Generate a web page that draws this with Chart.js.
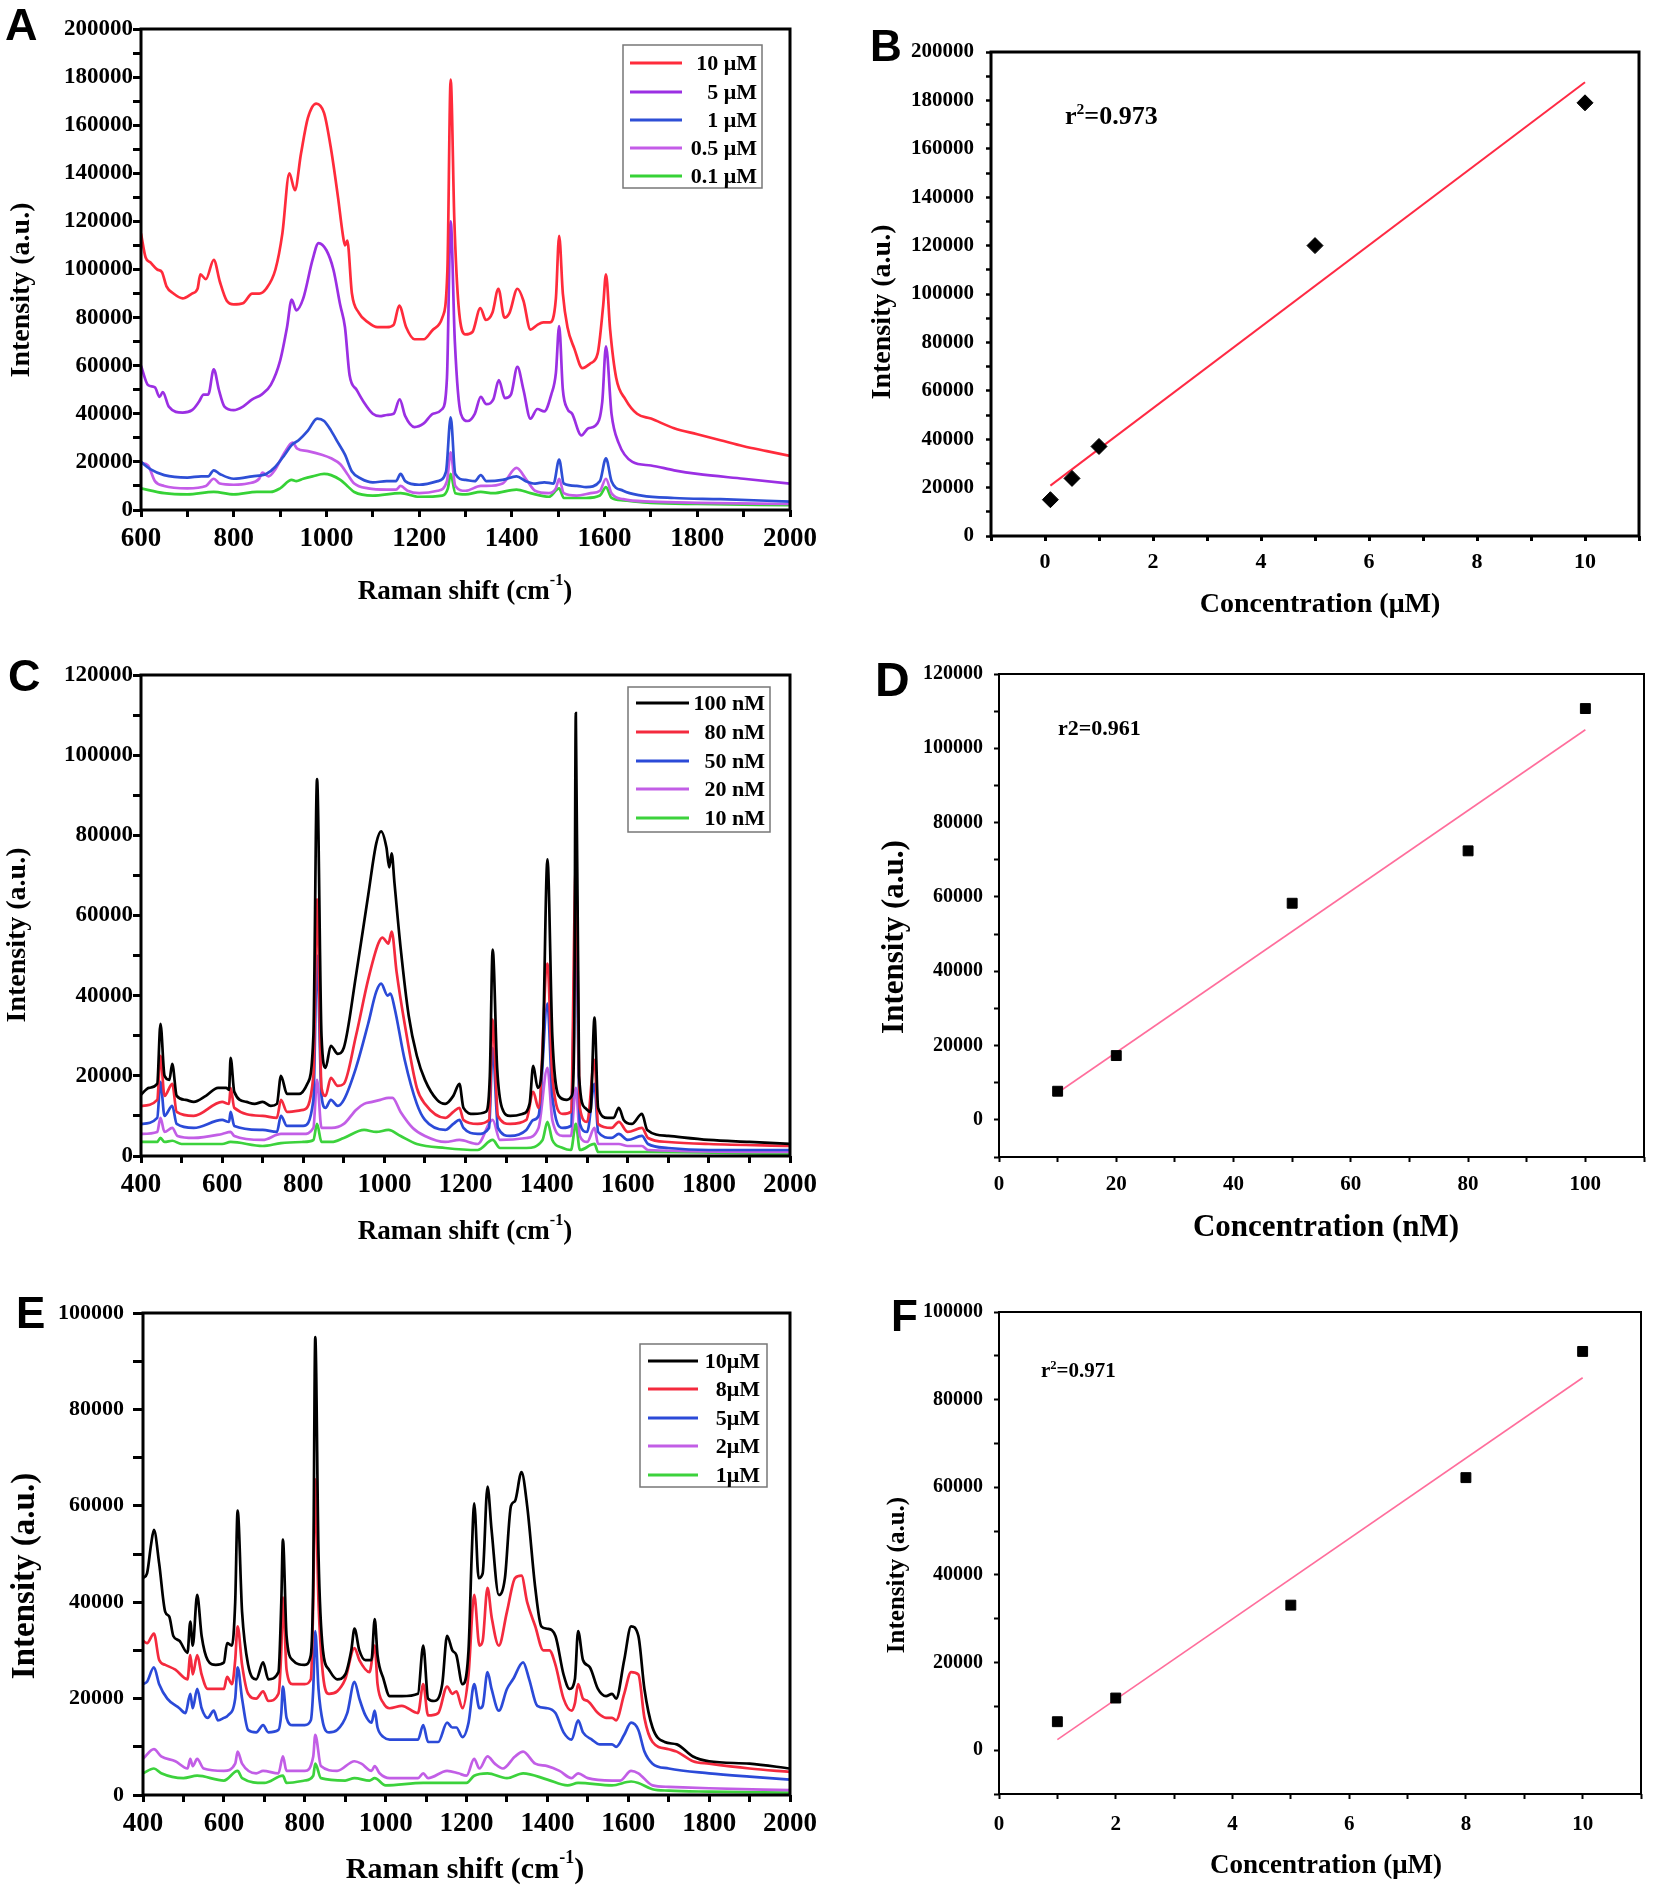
<!DOCTYPE html>
<html>
<head>
<meta charset="utf-8">
<script src="https://cdn.jsdelivr.net/npm/chart.js@4.4.1/dist/chart.umd.min.js"></script>
<style>
  body { margin: 0; background: #fff; width: 1654px; height: 1892px; position: relative; overflow: hidden; }
  canvas { position: absolute; }
</style>
</head>
<body>
<script>
const serif = '"Liberation Serif", "Times New Roman", serif';
const sans = '"Liberation Sans", Arial, sans-serif';

// ---- Panel A: Raman spectra, [shift, intensity]
const a10uM = [[600,115000],[610,105000],[620,103000],[635,100000],[645,99000],[655,93000],[670,90000],[690,88000],[710,90000],[722,92000],[728,98000],[740,96000],[757,104000],[770,95000],[785,87000],[800,85500],[820,86000],[840,90000],[855,90000],[870,92000],[890,100000],[905,115000],[920,140000],[932,133000],[945,148000],[960,163000],[978,169000],[995,165000],[1010,150000],[1025,130000],[1035,115000],[1040,110000],[1045,112000],[1055,90000],[1070,82000],[1090,78000],[1110,76000],[1130,76000],[1145,77000],[1157,85000],[1172,76000],[1190,71000],[1210,71000],[1230,75000],[1250,80000],[1261,100000],[1268,179000],[1276,120000],[1285,85000],[1300,73000],[1315,74000],[1332,84000],[1344,79000],[1358,82000],[1371,92000],[1384,80000],[1395,82000],[1412,92000],[1425,87000],[1440,75000],[1455,77000],[1468,78000],[1482,78000],[1495,88000],[1502,114000],[1510,90000],[1520,76000],[1535,67000],[1552,59000],[1570,61000],[1585,65000],[1597,85000],[1603,98000],[1612,75000],[1625,55000],[1645,46000],[1670,40000],[1700,38000],[1750,34000],[1800,31500],[1850,29000],[1900,26500],[1950,24500],[2000,22500]];
const a5uM = [[600,60000],[615,52000],[630,51000],[640,47000],[647,49000],[660,43000],[690,40500],[710,41500],[725,45000],[735,48000],[745,48000],[757,58500],[768,50000],[780,43000],[800,41500],[820,43000],[840,46000],[860,48000],[880,52000],[900,62000],[915,76000],[925,87500],[935,83000],[950,88000],[970,104000],[983,111000],[1000,108000],[1015,100000],[1030,85000],[1040,76000],[1050,56000],[1065,50000],[1080,45000],[1100,40000],[1115,39000],[1130,39500],[1145,40000],[1158,46000],[1170,39000],[1190,34500],[1210,36000],[1230,40000],[1250,42000],[1260,55000],[1268,120000],[1277,70000],[1290,40000],[1305,37000],[1320,40000],[1333,47000],[1345,44000],[1360,46000],[1372,54000],[1385,46500],[1398,48000],[1412,59500],[1425,50000],[1440,38000],[1455,42000],[1470,41000],[1485,48000],[1495,57000],[1502,76500],[1510,50000],[1520,42000],[1530,40000],[1550,31000],[1565,34000],[1580,35000],[1595,45000],[1603,68000],[1615,40000],[1630,28000],[1660,20000],[1700,18500],[1750,16500],[1800,15000],[1900,13000],[2000,11000]];
const a1uM = [[600,20000],[620,17000],[650,14500],[700,13500],[730,14000],[745,14000],[757,16500],[770,15000],[800,13000],[840,14000],[870,15000],[890,18000],[910,23000],[925,27000],[940,29000],[960,33000],[980,38000],[995,37000],[1010,33000],[1025,28000],[1040,23000],[1055,16000],[1075,13000],[1100,11500],[1130,12000],[1150,12000],[1160,15000],[1170,12000],[1200,10500],[1240,12000],[1258,16000],[1268,38500],[1278,15000],[1300,12500],[1320,12000],[1333,14500],[1345,12000],[1380,12500],[1410,14000],[1430,12000],[1450,11000],[1470,11500],[1490,11000],[1502,21000],[1512,11000],[1540,10000],[1560,9500],[1590,12000],[1603,21500],[1615,12000],[1640,8000],[1680,6000],[1750,5000],[1850,4500],[2000,3500]];
const a05uM = [[600,19500],[615,18500],[630,12000],[650,10000],[700,9000],[740,10000],[757,13000],[770,11000],[800,10500],[830,11000],[855,13000],[862,15500],[875,14000],[890,17000],[910,24000],[927,28000],[937,25500],[960,24500],[990,23000],[1010,21500],[1030,19000],[1045,15000],[1060,11000],[1090,9000],[1130,8500],[1150,8500],[1160,10000],[1175,8000],[1200,7000],[1240,8000],[1260,12000],[1268,24000],[1278,10000],[1300,8000],[1333,10000],[1345,10000],[1380,11000],[1410,17500],[1430,13000],[1450,8000],[1480,7000],[1495,9000],[1502,13000],[1512,7000],[1540,6000],[1570,7000],[1590,8000],[1603,13000],[1615,7000],[1640,4500],[1700,3500],[1800,3000],[2000,2500]];
const a01uM = [[600,9000],[650,7000],[700,6500],[757,7500],[800,6500],[850,7500],[880,7500],[900,9000],[925,12500],[935,12000],[950,13000],[970,14000],[995,15000],[1010,14500],[1030,12500],[1045,10000],[1060,7500],[1100,6000],[1160,7000],[1200,5500],[1250,6000],[1262,9000],[1268,15000],[1278,7000],[1300,6500],[1333,7500],[1360,7000],[1410,8500],[1440,7000],[1480,5500],[1502,9000],[1512,5000],[1560,5000],[1590,6000],[1603,9500],[1615,5000],[1640,4000],[1700,3000],[1800,2500],[2000,2000]];

// ---- Panel B: calibration (uM)
const bConc = [0.1, 0.5, 1, 5, 10];
const bInt = [15000, 23800, 37000, 120000, 179000];
const bFitX = [0.1, 10];
const bFitY = [20800, 187500];

// ---- Panel C: Raman spectra (nM)
const c100nM = [[400,15300],[420,17000],[440,18000],[448,33000],[458,20000],[470,19000],[477,23000],[488,15000],[510,14000],[530,13500],[560,15000],[590,17000],[610,17000],[617,16500],[621,24500],[630,16000],[660,13500],[680,13000],[700,13500],[720,12500],[735,13000],[745,20000],[760,15500],[790,15500],[810,18000],[825,30000],[834,94000],[845,30000],[855,22000],[868,27500],[885,25500],[900,27000],[930,45000],[960,65000],[980,78000],[992,81000],[1005,77000],[1012,72000],[1018,75500],[1025,68000],[1040,52000],[1060,35000],[1080,25000],[1100,19000],[1130,14000],[1150,13000],[1170,15000],[1185,18000],[1195,12000],[1220,10500],[1250,11000],[1260,20000],[1267,51500],[1278,22000],[1290,12000],[1310,10000],[1340,10500],[1358,13000],[1367,22500],[1378,17000],[1390,25000],[1402,74000],[1414,30000],[1430,15000],[1450,14000],[1462,15000],[1468,30000],[1472,110500],[1480,20000],[1495,12000],[1508,11000],[1518,34500],[1527,12000],[1550,9500],[1565,9500],[1578,12000],[1590,9000],[1610,8000],[1635,10500],[1648,6500],[1700,5000],[1800,4000],[1900,3500],[2000,3000]];
const c80nM = [[400,12500],[440,14000],[448,25000],[458,15000],[477,18000],[488,11000],[530,10000],[600,13500],[617,13000],[621,17000],[630,12000],[700,10000],[735,9500],[745,14000],[760,11000],[800,11500],[825,20000],[834,64000],[845,17000],[855,15000],[868,19500],[885,17500],[900,18000],[930,30000],[960,44000],[985,53000],[995,54500],[1010,53000],[1018,56000],[1030,46000],[1050,33000],[1080,17000],[1100,13000],[1150,9500],[1170,11000],[1185,12000],[1195,9000],[1230,8000],[1258,9000],[1267,34000],[1280,10000],[1310,8000],[1350,9000],[1367,16000],[1380,12000],[1402,48000],[1414,20000],[1440,10500],[1460,11000],[1472,72000],[1482,12000],[1500,8500],[1518,24000],[1527,8000],[1560,7000],[1578,8500],[1600,6000],[1635,7000],[1650,4500],[1700,3500],[1800,3000],[2000,2500]];
const c50nM = [[400,8000],[440,9500],[448,18500],[458,10000],[477,12500],[488,8000],[530,7000],[600,9000],[617,8500],[621,11000],[630,7500],[700,6500],[735,6000],[745,10000],[760,7500],[800,7500],[825,14000],[834,50000],[845,15000],[855,12000],[868,14000],[885,12500],[900,14000],[930,22000],[960,33000],[980,41000],[992,43000],[1008,40000],[1015,40500],[1025,37000],[1050,24000],[1080,13000],[1100,9000],[1150,6500],[1170,8000],[1185,9000],[1195,7000],[1230,5500],[1258,7000],[1267,27000],[1280,7000],[1310,5000],[1350,6500],[1367,9000],[1380,10000],[1402,38000],[1414,15000],[1440,7000],[1460,7500],[1472,58000],[1482,8000],[1500,6000],[1518,18000],[1527,6000],[1560,4500],[1578,5500],[1600,4000],[1635,5000],[1650,3000],[1700,2000],[1800,1500],[2000,1500]];
const c20nM = [[400,5500],[440,6000],[448,9500],[458,6000],[477,7000],[490,5000],[530,4500],[600,5500],[621,6000],[630,5000],[700,4000],[745,5500],[800,5500],[825,7000],[834,19000],[845,7000],[870,7000],[900,8000],[930,11500],[950,13000],[970,13500],[990,14000],[1010,14500],[1020,14500],[1040,11000],[1070,7000],[1100,5000],[1150,3500],[1185,4000],[1230,3000],[1267,9000],[1285,4000],[1350,4500],[1380,7000],[1402,22000],[1414,9000],[1440,5000],[1460,5000],[1472,17000],[1482,5000],[1500,3500],[1518,7000],[1527,3000],[1578,3000],[1600,2500],[1635,2500],[1650,1500],[2000,1000]];
const c10nM = [[400,3500],[440,3500],[448,4500],[458,3500],[477,3800],[500,3000],[600,3000],[621,3500],[700,2500],[745,3200],[800,3500],[825,4000],[834,8000],[845,3500],[870,3500],[900,4500],[950,6500],[980,6000],[1010,6500],[1040,5000],[1080,3000],[1150,2000],[1230,1500],[1267,4000],[1285,2000],[1350,2000],[1390,4000],[1402,8500],[1414,4000],[1440,2000],[1460,1500],[1472,8000],[1482,1500],[1518,3000],[1527,1000],[1600,1000],[1650,1000],[2000,500]];

// ---- Panel D: calibration (nM)
const dConc = [10, 20, 50, 80, 100];
const dInt = [7700, 17300, 58300, 72400, 110700];
const dFitX = [10, 100];
const dFitY = [7300, 105000];

// ---- Panel E: Raman spectra (uM)
const e10uM = [[400,45000],[410,46000],[420,52000],[427,55000],[440,48000],[455,38000],[465,37000],[475,33000],[490,32000],[510,29500],[517,36000],[523,31000],[534,41500],[545,33000],[560,28000],[580,27000],[600,27500],[608,31500],[620,31000],[628,40000],[634,59000],[645,38000],[660,27000],[680,24000],[697,27500],[710,24000],[735,25500],[742,40000],[746,53000],[755,33000],[770,28000],[800,27000],[815,29000],[821,45000],[826,95000],[834,50000],[845,30000],[860,26000],[880,24000],[900,25000],[915,30000],[923,34500],[935,30000],[950,28000],[965,28000],[973,36500],[980,29000],[995,24000],[1010,20500],[1040,20500],[1080,21000],[1093,31000],[1105,20000],[1120,19500],[1140,23000],[1152,33000],[1165,30000],[1175,29000],[1190,23000],[1205,30000],[1213,50000],[1219,60500],[1230,45000],[1240,46000],[1252,64000],[1262,55000],[1280,41500],[1295,45000],[1310,60000],[1320,61000],[1336,67000],[1350,60000],[1370,43000],[1385,35000],[1400,34500],[1420,33000],[1440,25000],[1455,22000],[1468,24000],[1476,34000],[1488,28000],[1505,26500],[1525,22000],[1545,20500],[1560,21000],[1570,20000],[1590,28000],[1607,35000],[1625,33000],[1640,22000],[1660,14000],[1690,11000],[1720,10500],[1760,8000],[1800,7000],[1900,6500],[2000,5500]];
const e8uM = [[400,32000],[410,31500],[427,33500],[440,28000],[455,27000],[480,26000],[510,24000],[517,29000],[523,25000],[534,29000],[545,25000],[560,22000],[600,22000],[608,24500],[620,23000],[628,28000],[634,35000],[645,27000],[660,21000],[680,20000],[697,21500],[710,19500],[735,21000],[742,30000],[746,41000],[755,26000],[770,23000],[800,23000],[815,24000],[821,40000],[826,65500],[834,40000],[845,25000],[860,21000],[880,21500],[900,24000],[923,30500],[935,28000],[960,25500],[973,31000],[980,23000],[995,19000],[1010,18000],[1040,18500],[1080,17000],[1093,23000],[1105,16500],[1130,17000],[1152,22500],[1165,21000],[1175,21500],[1190,18000],[1205,25000],[1219,41500],[1232,31000],[1240,32000],[1252,43000],[1262,37000],[1280,31000],[1300,38000],[1320,45000],[1336,45500],[1350,40000],[1370,35000],[1390,30000],[1405,30000],[1420,27000],[1440,20000],[1460,17500],[1468,19000],[1476,23000],[1488,20000],[1500,19500],[1525,17000],[1545,16000],[1560,16000],[1570,15500],[1590,21000],[1607,25500],[1625,25000],[1640,16000],[1660,11000],[1700,9500],[1720,9000],[1760,7000],[1800,6500],[1900,5500],[2000,4800]];
const e5uM = [[400,23000],[410,23500],[427,26500],[440,23000],[460,20000],[490,18000],[505,17000],[517,21000],[523,18000],[534,22000],[545,18000],[560,16000],[575,17500],[585,15500],[600,16000],[610,16500],[628,20000],[634,26500],[645,20000],[660,13500],[680,13000],[697,14500],[710,13000],[735,13500],[742,17000],[746,22500],[755,16000],[770,14500],[800,14500],[815,15500],[821,22000],[826,34000],[834,22000],[845,15000],[860,13000],[880,13500],[905,17000],[923,23500],[935,20000],[950,16500],[965,15000],[973,17500],[980,14000],[995,12000],[1010,11500],[1040,11500],[1080,11500],[1093,14500],[1105,11000],[1130,11000],[1152,15000],[1165,14000],[1175,14000],[1190,12000],[1205,15000],[1219,23000],[1232,18000],[1240,18500],[1252,25500],[1262,22000],[1280,17500],[1300,22000],[1315,24000],[1340,27500],[1355,24000],[1375,18500],[1400,18000],[1420,17000],[1440,13000],[1460,11500],[1476,15500],[1488,13000],[1510,11500],[1530,10500],[1560,10500],[1570,10000],[1590,12500],[1607,15000],[1625,13500],[1640,9000],[1660,6500],[1700,5500],[1800,4500],[1900,3800],[2000,3200]];
const e2uM = [[400,7500],[427,9500],[445,8000],[480,7000],[510,5500],[517,7500],[523,6000],[534,7500],[550,5500],[600,5000],[628,6500],[634,9000],[645,6500],[680,4500],[697,5000],[735,4500],[746,8000],[755,5000],[800,5000],[821,8000],[826,12500],[840,6000],[880,5000],[923,7000],[940,6500],[965,5000],[973,6000],[985,4500],[1010,3500],[1080,3500],[1093,4500],[1105,3500],[1152,5000],[1180,4500],[1200,4000],[1219,7500],[1232,5500],[1252,8000],[1270,6500],[1290,5500],[1320,8000],[1340,9000],[1370,6500],[1400,6000],[1430,5000],[1460,3500],[1476,4500],[1500,3500],[1560,3000],[1580,3000],[1607,5000],[1625,4500],[1660,2000],[1700,1700],[1800,1400],[2000,1000]];
const e1uM = [[400,4500],[427,5500],[445,4500],[500,3500],[534,4000],[600,3000],[634,5000],[645,3500],[700,2500],[746,4000],[755,2500],[800,3000],[821,4000],[826,6500],[840,3500],[900,3000],[923,3500],[960,3000],[973,3500],[1000,2000],[1093,2500],[1152,2500],[1200,2500],[1219,4000],[1252,4500],[1300,3500],[1340,4500],[1400,3200],[1450,2000],[1476,2500],[1560,2000],[1607,2800],[1625,2500],[1660,1200],[1700,900],[1800,700],[2000,500]];

// ---- Panel F: calibration (uM)
const fConc = [1, 2, 5, 8, 10];
const fInt = [6500, 11900, 33100, 62200, 91000];
const fFitX = [1, 10];
const fFitY = [2400, 85000];

// ---------- helpers
function xy(pairs) { return pairs.map(p => ({x: p[0], y: p[1]})); }
function zip(xs, ys) { return xs.map((x, i) => ({x: x, y: ys[i]})); }

function spectrum(label, pairs, color) {
  return { label: label, data: xy(pairs), showLine: true, borderColor: color, borderWidth: 2.7,
           pointRadius: 0, fill: false, cubicInterpolationMode: 'monotone' };
}
function markers(xs, ys, style, r) {
  return { data: zip(xs, ys), pointStyle: style, pointRadius: r, backgroundColor: '#000',
           borderColor: '#000', borderWidth: 1, showLine: false };
}
function fitLine(xs, ys, color, w) {
  return { data: zip(xs, ys), showLine: true, borderColor: color, borderWidth: w, pointRadius: 0 };
}

function labelEvery(step, lo, hi) {
  return v => {
    const k = Math.round(v / step);
    return (Math.abs(v - k * step) < 1e-6 && v >= lo && v <= hi) ? String(v) : '';
  };
}

function axis(o) {
  return {
    type: 'linear', min: o.min, max: o.max,
    grid: { display: true, drawOnChartArea: false, drawTicks: true, tickLength: o.tl, tickWidth: o.tw, tickColor: '#000' },
    border: { display: false },
    ticks: { stepSize: o.step, maxTicksLimit: 1000, autoSkip: false, maxRotation: 0, minRotation: 0,
             padding: o.pad, color: '#000', font: { family: serif, size: o.size, weight: 'bold' },
             callback: labelEvery(o.label, o.lo, o.hi) },
    afterFit: s => { if (o.w !== undefined) s.width = o.w; if (o.h !== undefined) s.height = o.h; }
  };
}

// text with ^{...} superscripts
function drawRich(ctx, t, L, T) {
  ctx.save();
  ctx.translate(t.x - L, t.y - T);
  if (t.rot) ctx.rotate(t.rot);
  ctx.fillStyle = '#000';
  ctx.textBaseline = t.base || 'middle';
  ctx.textAlign = 'left';
  ctx.letterSpacing = (t.spacing || 0) + 'px';
  const fam = t.family || serif;
  const bits = t.text.split(/\^\{([^}]*)\}/);
  const parts = bits.map((s, i) => {
    const sup = i % 2 === 1;
    const size = sup ? t.size * 0.6 : t.size;
    ctx.font = 'bold ' + size + 'px ' + fam;
    return { s: s, sup: sup, size: size, w: ctx.measureText(s).width };
  });
  const total = parts.reduce((a, p) => a + p.w, 0);
  let x = t.align === 'left' ? 0 : -total / 2;
  parts.forEach(p => {
    ctx.font = 'bold ' + p.size + 'px ' + fam;
    ctx.fillText(p.s, x, p.sup ? -t.size * 0.4 : 0);
    x += p.w;
  });
  ctx.restore();
}

const deco = {
  id: 'deco',
  afterDraw(chart, args, o) {
    const ctx = chart.ctx, a = chart.chartArea;
    const L = o.origin[0], T = o.origin[1];
    ctx.save();
    ctx.strokeStyle = '#000';
    ctx.lineWidth = o.frame;
    ctx.strokeRect(a.left, a.top, a.right - a.left, a.bottom - a.top);
    if (o.legend) {
      const g = o.legend;
      ctx.strokeStyle = '#777';
      ctx.lineWidth = 1.5;
      ctx.strokeRect(g.box[0] - L, g.box[1] - T, g.box[2] - g.box[0], g.box[3] - g.box[1]);
      ctx.font = 'bold ' + g.size + 'px ' + serif;
      ctx.textAlign = 'right';
      ctx.textBaseline = 'middle';
      ctx.fillStyle = '#000';
      chart.data.datasets.forEach((ds, i) => {
        const y = g.rows[i] - T;
        ctx.strokeStyle = ds.borderColor;
        ctx.lineWidth = 2.8;
        ctx.beginPath();
        ctx.moveTo(g.line[0] - L, y);
        ctx.lineTo(g.line[1] - L, y);
        ctx.stroke();
        ctx.fillText(ds.label, g.textRight - L, y + 1);
      });
    }
    (o.texts || []).forEach(t => drawRich(ctx, t, L, T));
    ctx.restore();
  }
};

function makeChart(p) {
  const L = p.box[0], T = p.box[1], W = p.box[2], H = p.box[3];
  const pl = p.plot[0], pt = p.plot[1], pr = p.plot[2], pb = p.plot[3];
  const cv = document.createElement('canvas');
  cv.width = W; cv.height = H;
  cv.style.left = L + 'px'; cv.style.top = T + 'px';
  cv.style.width = W + 'px'; cv.style.height = H + 'px';
  document.body.appendChild(cv);
  return new Chart(cv, {
    type: 'scatter',
    data: { datasets: p.datasets },
    options: {
      responsive: false, animation: false, devicePixelRatio: 1,
      layout: { padding: { top: pt - T, right: L + W - pr, left: 0, bottom: 0 } },
      scales: { x: axis(Object.assign({}, p.x, { h: T + H - pb })),
                y: axis(Object.assign({}, p.y, { w: pl - L })) },
      plugins: { legend: { display: false }, tooltip: { enabled: false },
                 deco: Object.assign({ origin: [L, T] }, p.deco) }
    },
    plugins: [deco]
  });
}

const UP = -Math.PI / 2;

// A
makeChart({
  box: [0, 0, 827, 640], plot: [141, 29, 790, 510],
  datasets: [
    spectrum('10 \u03bcM', a10uM, '#ff2b3b'),
    spectrum('5 \u03bcM', a5uM, '#9b2fe3'),
    spectrum('1 \u03bcM', a1uM, '#2e4fd6'),
    spectrum('0.5 \u03bcM', a05uM, '#c45ce8'),
    spectrum('0.1 \u03bcM', a01uM, '#36d236')
  ],
  x: { min: 600, max: 2000, step: 100, label: 200, lo: 600, hi: 2000, tl: 7, tw: 3, pad: 6, size: 27 },
  y: { min: 0, max: 200000, step: 10000, label: 20000, lo: 0, hi: 200000, tl: 8, tw: 3, pad: 0, size: 23 },
  deco: {
    frame: 3,
    legend: { box: [623, 45, 762, 188], rows: [63, 92, 120, 148, 176], line: [630, 682], textRight: 757, size: 22 },
    texts: [
      { text: 'A', x: 5, y: 40, size: 45, family: sans, align: 'left', base: 'alphabetic' },
      { text: 'Intensity (a.u.)', x: 22, y: 290, size: 28, rot: UP },
      { text: 'Raman shift (cm^{-1})', x: 465, y: 592, size: 27 }
    ]
  }
});

// B
makeChart({
  box: [827, 0, 827, 640], plot: [991, 52, 1639, 536],
  datasets: [
    markers(bConc, bInt, 'rectRot', 8),
    fitLine(bFitX, bFitY, '#ff2a44', 2)
  ],
  x: { min: -1, max: 11, step: 1, label: 2, lo: 0, hi: 10, tl: 5, tw: 3, pad: 8, size: 22 },
  y: { min: 0, max: 200000, step: 10000, label: 20000, lo: 0, hi: 200000, tl: 5, tw: 2.5, pad: 12, size: 21 },
  deco: {
    frame: 3,
    texts: [
      { text: 'B', x: 870, y: 61, size: 44, family: sans, align: 'left', base: 'alphabetic' },
      { text: 'Intensity (a.u.)', x: 883, y: 312, size: 28, rot: UP },
      { text: 'Concentration (\u03bcM)', x: 1320, y: 605, size: 28 },
      { text: 'r^{2}=0.973', x: 1065, y: 124, size: 26, align: 'left', base: 'alphabetic' }
    ]
  }
});

// C
makeChart({
  box: [0, 640, 827, 630], plot: [141, 675, 790, 1156],
  datasets: [
    spectrum('100 nM', c100nM, '#000000'),
    spectrum('80 nM', c80nM, '#f42a3e'),
    spectrum('50 nM', c50nM, '#2b4ad8'),
    spectrum('20 nM', c20nM, '#c25ee6'),
    spectrum('10 nM', c10nM, '#3cd23c')
  ],
  x: { min: 400, max: 2000, step: 100, label: 200, lo: 400, hi: 2000, tl: 7, tw: 3, pad: 6, size: 27 },
  y: { min: 0, max: 120000, step: 10000, label: 20000, lo: 0, hi: 120000, tl: 8, tw: 3, pad: 0, size: 23 },
  deco: {
    frame: 3,
    legend: { box: [628, 687, 770, 832], rows: [703, 732, 761, 789, 818], line: [636, 689], textRight: 765, size: 22 },
    texts: [
      { text: 'C', x: 8, y: 691, size: 45, family: sans, align: 'left', base: 'alphabetic' },
      { text: 'Intensity (a.u.)', x: 18, y: 935, size: 28, rot: UP },
      { text: 'Raman shift (cm^{-1})', x: 465, y: 1232, size: 27 }
    ]
  }
});

// D
makeChart({
  box: [827, 640, 827, 630], plot: [999, 674, 1647, 1157],
  datasets: [
    markers(dConc, dInt, 'rect', 7),
    fitLine(dFitX, dFitY, '#ff6e9c', 1.6)
  ],
  x: { min: 0, max: 110, step: 10, label: 20, lo: 0, hi: 100, tl: 5, tw: 2, pad: 10, size: 21 },
  y: { min: -10000, max: 120000, step: 10000, label: 20000, lo: 0, hi: 120000, tl: 5, tw: 2, pad: 11, size: 20 },
  deco: {
    frame: 2,
    texts: [
      { text: 'D', x: 875, y: 696, size: 48, family: sans, align: 'left', base: 'alphabetic' },
      { text: 'Intensity (a.u.)', x: 895, y: 937, size: 31, rot: UP },
      { text: 'Concentration (nM)', x: 1326, y: 1228, size: 31 },
      { text: 'r2=0.961', x: 1058, y: 735, size: 22, align: 'left', base: 'alphabetic' }
    ]
  }
});

// E
makeChart({
  box: [0, 1270, 827, 622], plot: [143, 1313, 790, 1795],
  datasets: [
    spectrum('10\u03bcM', e10uM, '#000000'),
    spectrum('8\u03bcM', e8uM, '#f42a3e'),
    spectrum('5\u03bcM', e5uM, '#2b4ad8'),
    spectrum('2\u03bcM', e2uM, '#c25ee6'),
    spectrum('1\u03bcM', e1uM, '#3cd23c')
  ],
  x: { min: 400, max: 2000, step: 100, label: 200, lo: 400, hi: 2000, tl: 7, tw: 3, pad: 6, size: 27 },
  y: { min: 0, max: 100000, step: 10000, label: 20000, lo: 0, hi: 100000, tl: 10, tw: 3, pad: 9, size: 22 },
  deco: {
    frame: 3,
    legend: { box: [640, 1344, 767, 1487], rows: [1361, 1389, 1418, 1446, 1475], line: [648, 698], textRight: 760, size: 22 },
    texts: [
      { text: 'E', x: 16, y: 1328, size: 44, family: sans, align: 'left', base: 'alphabetic' },
      { text: 'Intensity (a.u.)', x: 25, y: 1576, size: 33, rot: UP },
      { text: 'Raman shift (cm^{-1})', x: 465, y: 1870, size: 30 }
    ]
  }
});

// F
makeChart({
  box: [827, 1270, 827, 622], plot: [999, 1312, 1647, 1794],
  datasets: [
    markers(fConc, fInt, 'rect', 7),
    fitLine(fFitX, fFitY, '#ff6e9c', 1.6)
  ],
  x: { min: 0, max: 11, step: 1, label: 2, lo: 0, hi: 10, tl: 5, tw: 2, pad: 13, size: 21 },
  y: { min: -10000, max: 100000, step: 10000, label: 20000, lo: 0, hi: 100000, tl: 5, tw: 2, pad: 11, size: 20 },
  deco: {
    frame: 2,
    texts: [
      { text: 'F', x: 891, y: 1331, size: 44, family: sans, align: 'left', base: 'alphabetic' },
      { text: 'Intensity (a.u.)', x: 898, y: 1575, size: 25, rot: UP },
      { text: 'Concentration (\u03bcM)', x: 1326, y: 1866, size: 27 },
      { text: 'r^{2}=0.971', x: 1041, y: 1377, size: 21, align: 'left', base: 'alphabetic' }
    ]
  }
});
</script>
</body>
</html>
